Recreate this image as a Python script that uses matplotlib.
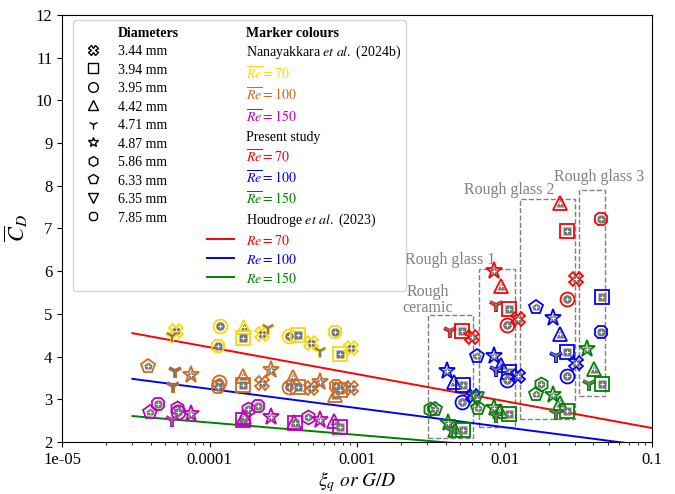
import numpy as np
import matplotlib
matplotlib.use('Agg')
import matplotlib.pyplot as plt
from matplotlib.lines import Line2D
from matplotlib.patches import Rectangle

plt.rcParams['font.family'] = ['Liberation Serif', 'DejaVu Serif']
plt.rcParams['mathtext.fontset'] = 'stix'

# diameters (mm) and their marker symbols
diam = ['3.44', '3.94', '3.95', '4.42', '4.71', '4.87', '5.86', '6.33', '6.35', '7.85']
mk = {'3.44': 'X', '3.94': 's', '3.95': 'o', '4.42': '^', '4.71': '1',
      '4.87': '*', '5.86': 'h', '6.33': 'p', '6.35': 'v', '7.85': '8'}

# Nanayakkara et al. (2024b)
nan70_x = [5.9e-5, 5.57e-5, 1.18e-4, 1.14e-4, 1.71e-4, 1.69e-4, 2.27e-4, 2.49e-4, 3.46e-4, 3.98e-4,
           4.88e-4, 5.61e-4, 7.1e-4, 7.67e-4, 9.1e-4]
nan70_cd = [4.60, 4.48, 4.72, 4.25, 4.69, 4.44, 4.53, 4.67, 4.48, 4.51, 4.32, 4.13, 4.58, 4.06, 4.20]
nan70_d = ['3.44', '4.71', '3.95', '7.85', '4.42', '3.94', '3.44', '4.71', '3.95', '3.94',
           '3.44', '4.71', '7.85', '3.94', '3.44']

nan100_x = [3.83e-5, 5.83e-5, 5.65e-5, 7.5e-5, 1.16e-4, 1.14e-4, 1.69e-4, 1.69e-4, 2.27e-4, 2.61e-4,
            3.68e-4, 3.46e-4, 3.98e-4, 4.88e-4, 5.6e-4, 7.2e-4, 7.1e-4, 7.67e-4, 9.1e-4]
nan100_cd = [3.78, 3.66, 3.31, 3.57, 3.41, 3.29, 3.55, 3.33, 3.38, 3.69,
             3.52, 3.29, 3.29, 3.26, 3.41, 3.31, 3.10, 3.22, 3.26]
nan100_d = ['6.33', '4.71', '4.71', '4.87', '3.95', '7.85', '4.42', '3.94', '3.44', '4.87',
            '4.42', '3.95', '3.94', '3.44', '4.87', '7.85', '4.42', '3.94', '3.44']

nan150_x = [3.95e-5, 4.48e-5, 6.03e-5, 6.1e-5, 5.57e-5, 7.5e-5, 1.69e-4, 1.71e-4, 1.82e-4, 2.13e-4,
            2.61e-4, 3.74e-4, 3.8e-4, 4.66e-4, 5.6e-4, 6.98e-4, 7.67e-4]
nan150_cd = [2.70, 2.89, 2.80, 2.70, 2.52, 2.66, 2.52, 2.59, 2.77, 2.84,
             2.59, 2.47, 2.45, 2.59, 2.52, 2.49, 2.35]
nan150_d = ['6.33', '7.85', '5.86', '3.95', '4.71', '4.87', '3.94', '4.42', '5.86', '7.85',
            '4.87', '4.42', '3.94', '5.86', '4.87', '4.42', '3.94']

# Present study
pre70_x = [0.0238, 0.0267, 0.0451, 0.0305, 0.0263, 0.00849, 0.00947, 0.00875, 0.0107, 0.0124,
           0.0104, 0.00427, 0.00513, 0.00603]
pre70_cd = [7.60, 6.95, 7.23, 5.81, 5.35, 6.00, 5.66, 5.21, 5.11, 4.89, 4.75, 4.61, 4.61, 4.47]
pre70_d = ['4.42', '3.94', '7.85', '3.44', '3.95', '4.87', '4.42', '4.71', '3.94', '3.44',
           '3.95', '4.71', '3.94', '3.44']

pre100_x = [0.0164, 0.0213, 0.0236, 0.0267, 0.0222, 0.0305, 0.0263, 0.0455, 0.0451, 0.00651,
            0.00849, 0.00947, 0.00875, 0.0107, 0.0104, 0.0124, 0.00407, 0.00455, 0.00521, 0.00513,
            0.00612]
pre100_cd = [5.17, 4.90, 4.54, 4.11, 4.01, 3.85, 3.55, 5.40, 4.57, 4.02,
             4.02, 3.81, 3.69, 3.65, 3.45, 3.55, 3.66, 3.41, 3.33, 2.94, 3.09]
pre100_d = ['6.33', '4.87', '4.42', '3.94', '4.71', '3.44', '3.95', '3.94', '7.85', '6.33',
            '4.87', '4.42', '4.71', '3.94', '3.95', '3.44', '4.87', '4.42', '3.94', '3.95', '3.44']

pre150_x = [0.0362, 0.0402, 0.0455, 0.0374, 0.0177, 0.0164, 0.0213, 0.0236, 0.0267, 0.0222,
            0.00651, 0.0066, 0.00849, 0.0093, 0.0088, 0.0107, 0.00313, 0.00335, 0.00413, 0.00463,
            0.00521, 0.00433]
pre150_cd = [4.19, 3.71, 3.37, 3.37, 3.37, 3.13, 3.11, 2.91, 2.73, 2.68,
             3.01, 2.79, 2.81, 2.73, 2.61, 2.66, 2.77, 2.77, 2.45, 2.29, 2.29, 2.29]
pre150_d = ['4.87', '4.42', '3.94', '4.71', '5.86', '6.33', '4.87', '4.42', '3.94', '4.71',
            '6.35', '6.33', '4.87', '4.42', '4.71', '3.94', '5.86', '6.33', '4.87', '4.42',
            '3.94', '4.71']

# Houdroge et al. (2023)
hou_x = [3e-5, 0.1]
hou70 = [4.55, 2.33]
hou100 = [3.48, 1.90]
hou150 = [2.61, 1.59]

# roughness groups
box_names = ['Rough\nceramic', 'Rough glass 1', 'Rough glass 2', 'Rough glass 3']
box_x0 = [0.00303, 0.00676, 0.01267, 0.0318]
box_x1 = [0.00611, 0.0117, 0.0301, 0.0483]
box_y0 = [2.09, 2.35, 2.55, 3.07]
box_y1 = [4.97, 6.05, 7.69, 7.89]

fig = plt.figure(figsize=(6.75, 4.94), dpi=100)
ax = fig.add_axes([0.092, 0.105, 0.874, 0.865])


def draw(xs, cds, ds, color):
    for x, c, d in zip(xs, cds, ds):
        m = mk[d]
        if m == '1':
            ax.plot(x, c, m, color=color, ms=10, mew=2.8, zorder=3)
            ax.plot(x, c, m, color='#777777', ms=9, mew=1.4, zorder=3)
        else:
            s = 12.5 if m == '*' else 10
            ax.plot(x, c, m, mfc='none', mec=color, ms=s, mew=1.3, zorder=3)
            ax.plot(x, c, m, mfc='#777777', mec='none', ms=s * 0.62, zorder=3)
            ax.plot(x, c, '+', color='white', ms=3.5, mew=0.7, zorder=3)


ax.plot(hou_x, hou70, color='red', lw=1.4, zorder=2)
ax.plot(hou_x, hou100, color='blue', lw=1.4, zorder=2)
ax.plot(hou_x, hou150, color='green', lw=1.4, zorder=2)

draw(nan70_x, nan70_cd, nan70_d, 'gold')
draw(nan100_x, nan100_cd, nan100_d, 'chocolate')
draw(nan150_x, nan150_cd, nan150_d, 'm')
draw(pre70_x, pre70_cd, pre70_d, 'red')
draw(pre100_x, pre100_cd, pre100_d, 'blue')
draw(pre150_x, pre150_cd, pre150_d, 'green')

for x0, x1, y0, y1 in zip(box_x0, box_x1, box_y0, box_y1):
    ax.add_patch(Rectangle((x0, y0), x1 - x0, y1 - y0, fill=False, ec='gray',
                           ls='--', lw=1, zorder=1))

lab_pos = [(0.00303, 5.33), (0.00427, 6.26), (0.0107, 7.90), (0.0438, 8.21)]
for name, (tx, ty) in zip(box_names, lab_pos):
    ax.text(tx, ty, name, color='gray', fontsize=11.5, ha='center', va='center',
            linespacing=1.0)

ax.set_xscale('log')
ax.set_xlim(1e-5, 0.1)
ax.set_ylim(2, 12)
ax.set_xticks([1e-5, 1e-4, 1e-3, 1e-2, 0.1])
ax.set_xticklabels(['1e-05', '0.0001', '0.001', '0.01', '0.1'])
ax.set_yticks(range(2, 13))
ax.tick_params(labelsize=12)
ax.set_xlabel(r'$\xi_q\ or\ G/D$', fontsize=14, labelpad=1)
ax.set_ylabel(r'$\overline{C}_D$', fontsize=16)
ax.yaxis.set_label_coords(-0.055, 0.5)

# legend: two columns of 13 rows
blank = Line2D([], [], ls='none')
h1 = [blank] + [Line2D([], [], ls='none', marker=mk[d], mfc='none', mec='k', color='k',
                       ms=7) for d in diam] + [blank] * 2
l1 = ['Diameters'] + [d + ' mm' for d in diam] + [''] * 2
h2 = [blank] * 10 + [Line2D([], [], color=c, lw=1.4) for c in ['red', 'blue', 'green']]
l2 = ['Marker colours', r'Nanayakkara $et\ al.$ (2024b)',
      r'$\overline{Re}=70$', r'$\overline{Re}=100$', r'$\overline{Re}=150$',
      'Present study',
      r'$\overline{Re}=70$', r'$\overline{Re}=100$', r'$\overline{Re}=150$',
      r'Houdroge $et\ al.$ (2023)',
      r'$Re=70$', r'$Re=100$', r'$Re=150$']
leg = ax.legend(h1 + h2, l1 + l2, ncol=2, loc='upper left', fontsize=10,
                labelspacing=0.29, handleheight=1.12, borderaxespad=0,
                bbox_to_anchor=(0.019, 0.988))
cols = ['k'] * 13 + ['k', 'k', 'gold', 'chocolate', 'm', 'k', 'red', 'blue', 'green', 'k',
                     'red', 'blue', 'green']
for t, c in zip(leg.get_texts(), cols):
    t.set_color(c)
leg.get_texts()[0].set_fontweight('bold')
leg.get_texts()[13].set_fontweight('bold')

fig.savefig('out.png', dpi=100)
